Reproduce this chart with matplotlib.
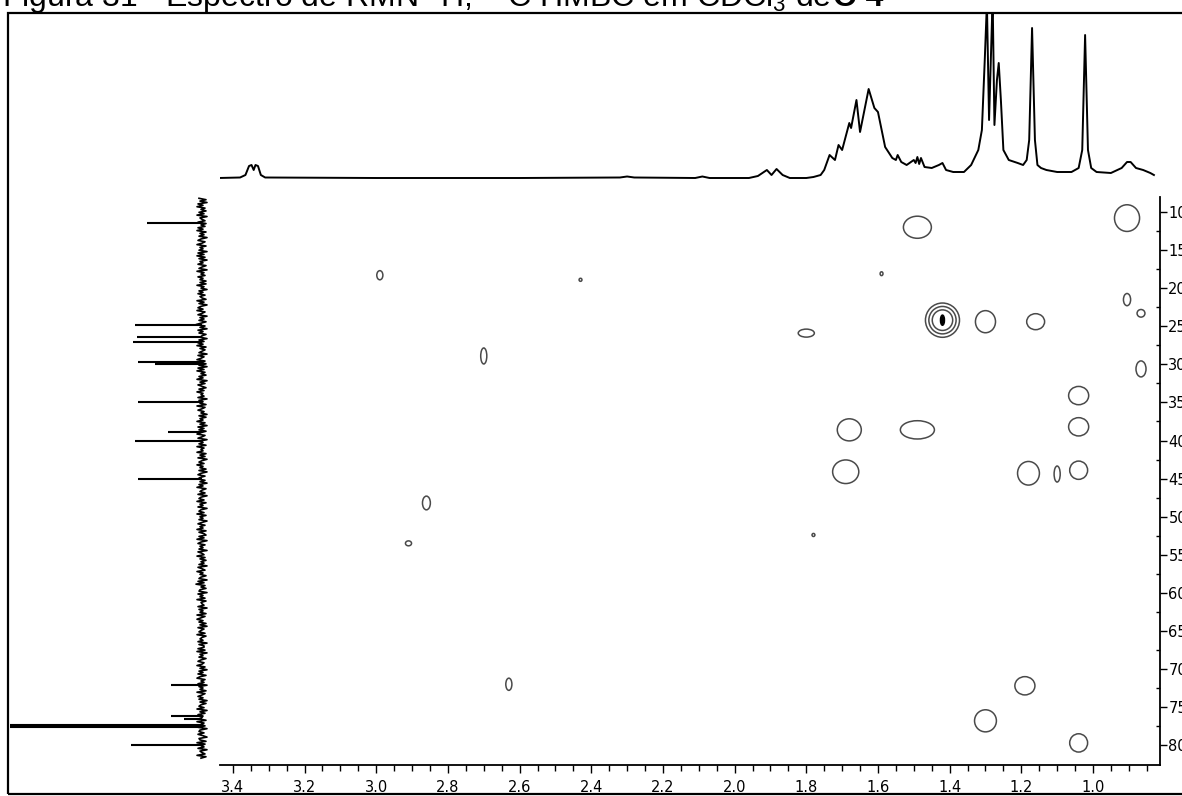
import numpy as np
import matplotlib.pyplot as plt
from matplotlib.patches import Ellipse, Rectangle

plt.rcParams['font.family'] = 'DejaVu Sans'
plt.rcParams['mathtext.fontset'] = 'custom'
plt.rcParams['mathtext.rm'] = 'Liberation Sans'
plt.rcParams['mathtext.bf'] = 'Liberation Sans:bold'

W, H = 1182, 796

title = r"Figura 31 - Espectro de RMN $^{1}$H, $^{13}$C HMBC em CDCl$_{3}$ de "
title_bold = "C-4"

# 1H projection (top): ppm, height
h_ppm = [3.44, 3.38, 3.365, 3.355, 3.348, 3.342, 3.337, 3.330, 3.322, 3.31, 3.0, 2.6,
         2.32, 2.30, 2.28, 2.11, 2.09, 2.07, 1.96, 1.935, 1.91, 1.897, 1.883, 1.866,
         1.846, 1.80, 1.78, 1.76, 1.75, 1.735, 1.72, 1.71, 1.70, 1.68, 1.675, 1.66,
         1.65, 1.626, 1.61, 1.60, 1.58, 1.56, 1.55, 1.545, 1.535, 1.52, 1.50, 1.495,
         1.49, 1.485, 1.48, 1.47, 1.45, 1.43, 1.42, 1.41, 1.39, 1.36, 1.34, 1.32, 1.31,
         1.302, 1.296, 1.29, 1.28, 1.275, 1.268, 1.263, 1.257, 1.25, 1.235, 1.21,
         1.195, 1.185, 1.178, 1.17, 1.162, 1.155, 1.145, 1.13, 1.10, 1.06, 1.04, 1.03,
         1.022, 1.014, 1.005, 0.99, 0.95, 0.92, 0.905, 0.895, 0.88, 0.86, 0.84, 0.83]
h_int = [0, 0.5, 3, 12, 13, 8, 13, 12, 3, 0.5, 0, 0,
         0.5, 1.5, 0.5, 0, 1.5, 0, 0, 2, 8, 3, 9, 3,
         0, 0, 1, 3, 8, 23, 18, 33, 28, 55, 50, 78,
         46, 89, 70, 66, 31, 20, 18, 23, 16, 13, 18, 15,
         21, 14, 20, 11, 10, 13, 15, 8, 6, 6, 13, 28, 48,
         118, 175, 58, 180, 53, 98, 115, 78, 28, 18, 15,
         13, 18, 38, 150, 38, 13, 10, 8, 6, 6, 10, 28,
         143, 28, 10, 6, 5, 10, 16, 16, 10, 8, 5, 3]

# 13C projection (left): peak positions (ppm) and heights
c_peak_ppm = [11.4, 24.8, 26.4, 27.1, 29.7, 29.9, 34.9, 38.9, 40.1, 45.0,
              72.1, 76.2, 76.5, 77.3, 77.6, 80.0]
c_peak_int = [55, 67, 65, 69, 64, 47, 64, 34, 67, 64,
              31, 31, 18, 200, 200, 71]
c_noise_range = (8.2, 81.7)
c_noise = [3, -4, 2, -5, 4, -1, 5, -3, 1, -4, 3, -2, 5, -5, 2, 0, -3, 4, -4, 1,
           -3, 4, -1, 5, -4, 2, -2, 3, -5, 1, 4, -3, 0, 5, -4, 2, -1, 3, -5, 4,
           -2, 5, -3, 3, -5, 2, -1, 4, -4, 0, 3, -5, 5, -2, 1, -3, 4, -1, 2, -4,
           2, -4, 5, -2, 1, -5, 3, -1, 4, -3, 2, 0, -4, 5, -2, 3, -5, 1, 4, -1,
           5, -3, 0, 4, -5, 2, -2, 3, -4, 1, 6, -3, 2, -5, 4, -1, 3, -4, 0, 2,
           -5, 3, -2, 4, -1, 5, -4, 2, -3, 0, 3, -5, 4, -2, 1, 5, -3, 2, -4, 3,
           -5, 4, -2, 5, -3, 1, -4, 3, -1, 5, -5, 2, -3, 4, 0, -4, 3, -2, 5, -1,
           1, -2, 4, -5, 3, -1, 2, -4, 5, -3, 0, 4, -2, 1, -5, 3, -4, 2, -1, 5,
           -3, 2, -5, 4, -2, 3, -4, 1, 5, -3, 0, 4, -5, 2, -1, 3, -4, 5, -2, 1,
           -1, 5, -4, 2, -3, 4, -5, 0, 3, -2, 5, -1, 2, -4, 3, -5, 1, 4, -3, 2,
           4, -3, 2, -5, 3, -1, 5, -4, 0, 2, -3, 4, -5, 1, 3, -2, 5, -4, 2, -1,
           4, -5, 1, 3, -2, 5, -4, 2, -1, 3, -5, 0, 4, -3, 2, -1, 5, -4, 3, -2,
           -4, 3, -2, 5, -5, 1, 4, -3, 2, -1, 3, -5, 4, 0, -2, 5, -3, 2, -4, 1,
           -2, 3, -5, 4, 0, -3, 5, -1, 2, -4, 1, 3, -5, 4, -2, 6, -3, 1, -4, 2,
           3, -5, 4, -1, 2, -3, 5, -4, 1, 0, -2, 4, -5, 3, -1, 2, -4, 5, -3, 1,
           5, -1, 3, -4, 2, -5, 4, -2, 1, 3, -3, 5, -4, 0, 2, -1, 4, -5, 3, -2,
           -2, 4, -3, 5, -5, 2, -1, 3, -4, 1, 4, -2, 0, 5, -3, 2, -5, 3, -1, 4,
           -4, 2, 5, -3, 1, -2, 4, -5, 3, -1, 2, -4, 5, -3, 0, 4, -1, 3, -5, 2,
           -4, 1, 3, -2, 5, -5, 2, -3, 4, -1, 0, 3, -4, 5, -2, 1, -3, 4, -5, 2,
           3, -2, 4, -1, -5, 3, 2, -4, 5, -3, 1, -2, 4, -5, 2, 0, -3, 5, -4, 1]

# HMBC cross peaks: 1H ppm, 13C ppm, width (ppm 1H), height (ppm 13C)
cross_h = [1.49, 0.905, 2.99, 2.43, 1.59, 1.30, 1.16, 0.905, 0.866, 1.80, 2.70, 0.866,
           1.04, 1.68, 1.49, 1.04, 1.69, 1.18, 1.10, 1.04, 2.86, 2.91, 1.78, 2.63,
           1.19, 1.30, 1.04]
cross_c = [12.0, 10.8, 18.3, 18.9, 18.1, 24.4, 24.4, 21.5, 23.3, 25.9, 28.9, 30.6,
           34.1, 38.6, 38.6, 38.2, 44.1, 44.3, 44.4, 43.9, 48.2, 53.5, 52.4, 72.0,
           72.2, 76.8, 79.7]
cross_w = [0.078, 0.070, 0.017, 0.008, 0.008, 0.056, 0.050, 0.020, 0.022, 0.045, 0.017, 0.028,
           0.056, 0.067, 0.095, 0.056, 0.073, 0.061, 0.017, 0.050, 0.022, 0.017, 0.008, 0.017,
           0.056, 0.061, 0.050]
cross_hh = [2.9, 3.5, 1.2, 0.4, 0.5, 2.9, 2.1, 1.6, 1.0, 1.05, 2.1, 2.1,
            2.4, 2.9, 2.4, 2.4, 3.1, 3.1, 2.1, 2.4, 1.8, 0.65, 0.4, 1.6,
            2.4, 2.9, 2.4]
# strongest cross peak, drawn as concentric levels
big_h, big_c, big_w, big_hh = 1.42, 24.2, 0.095, 4.5
big_levels = [1.0, 0.8, 0.6]

x_ticks = [3.4, 3.2, 3.0, 2.8, 2.6, 2.4, 2.2, 2.0, 1.8, 1.6, 1.4, 1.2, 1.0]
y_ticks = [10, 15, 20, 25, 30, 35, 40, 45, 50, 55, 60, 65, 70, 75, 80]


def box(l, t, r, b):
    # pixel box (top-left origin) -> figure fraction rect
    return [l / W, 1 - b / H, (r - l) / W, (b - t) / H]


fig = plt.figure(figsize=(W / 100, H / 100), dpi=100)
ax = fig.add_axes(box(220, 197, 1160, 765))
axt = fig.add_axes(box(220, 14, 1160, 192), sharex=ax)
axl = fig.add_axes(box(10, 197, 215, 765), sharey=ax)

ax.set_xlim(3.436, 0.813)
ax.set_ylim(82.6, 8.03)

line_col = '#4a4a4a'
for h, c, w, hh in zip(cross_h, cross_c, cross_w, cross_hh):
    ax.add_patch(Ellipse((h, c), w, hh, fill=False, ec=line_col, lw=1.1))
for s in big_levels:
    ax.add_patch(Ellipse((big_h, big_c), big_w * s, big_hh * s, fill=False, ec=line_col, lw=1.1))
ax.add_patch(Ellipse((big_h, big_c), big_w * 0.12, big_hh * 0.3, fc='black', ec='black', lw=1))

ax.spines['top'].set_visible(False)
ax.spines['left'].set_visible(False)
ax.yaxis.tick_right()
ax.set_xticks(x_ticks)
ax.set_xticklabels([f"{t:.1f}" for t in x_ticks])
ax.set_xticks(np.arange(0.85, 3.44, 0.05), minor=True)
ax.set_yticks(y_ticks)
ax.set_yticklabels([str(t) for t in y_ticks])
ax.set_yticks(np.arange(12.5, 82, 5), minor=True)
ax.tick_params(axis='x', which='major', length=6, width=1, pad=5, labelsize=10.5)
ax.tick_params(axis='x', which='minor', length=4, width=1)
ax.tick_params(axis='y', which='major', length=5, width=1, pad=1, labelsize=10.5)
ax.tick_params(axis='y', which='minor', length=3, width=1, direction='in')
for sp in ['bottom', 'right']:
    ax.spines[sp].set_linewidth(1.3)

# 1H projection
axt.plot(h_ppm, h_int, color='black', lw=1.4)
axt.set_ylim(-14, 164)
axt.axis('off')

# 13C projection
noise_ppm = np.linspace(c_noise_range[0], c_noise_range[1], len(c_noise))
axl.plot(c_noise, noise_ppm, color='black', lw=1.2)
axl.hlines(c_peak_ppm, 0, c_peak_int, color='black', lw=1.5)
axl.set_xlim(192, -13)
axl.axis('off')

# outer frame
fig.patches.append(Rectangle((8 / W, 2 / H), 1.0, (796 - 12.5 - 2) / H, transform=fig.transFigure,
                             fill=False, ec='black', lw=1.6))

t1 = fig.text(2 / W, 1 - 6 / H, title, fontsize=23, family='Liberation Sans', va='baseline')
fig.canvas.draw()
bb = t1.get_window_extent()
fig.text(bb.x1 / W, 1 - 6 / H, title_bold, fontsize=23, family='Liberation Sans',
         weight='bold', va='baseline')

fig.savefig('out.png', dpi=100)
